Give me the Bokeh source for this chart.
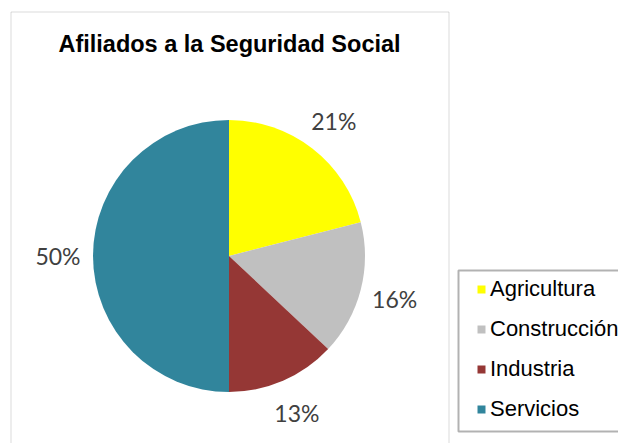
import math
from bokeh.plotting import figure
from bokeh.models import ColumnDataSource, Legend, LegendItem, BoxAnnotation, Label, Range1d
from bokeh.embed import file_html
from bokeh.resources import INLINE
from bokeh.core.properties import value

# ---- data ----
title = "Afiliados a la Seguridad Social"
sectors = ["Agricultura", "Construcción", "Industria", "Servicios"]
shares = [21, 16, 13, 50]
colors = ["#FFFF00", "#C0C0C0", "#953735", "#31859C"]

W, H = 618, 443
p = figure(width=W, height=H, x_range=Range1d(0, W), y_range=Range1d(0, H),
           output_backend="svg", toolbar_location=None, min_border=0, tools="")
p.axis.visible = False
p.grid.visible = False
p.outline_line_color = None
p.background_fill_color = "white"
p.border_fill_color = "white"

cx, cy, r = 228.5, H - 255.5, 136
total = float(sum(shares))
starts, ends, lx, ly, labels = [], [], [], [], []
cum = 0.0
for s in shares:
    a0 = math.pi / 2 - 2 * math.pi * cum / total
    cum += s
    a1 = math.pi / 2 - 2 * math.pi * cum / total
    starts.append(a0)
    ends.append(a1)
    m = (a0 + a1) / 2
    R = r + 35
    lx.append(cx + R * math.cos(m))
    ly.append(cy + R * math.sin(m))
    labels.append(f"{round(100 * s / total)}%")

src = ColumnDataSource(dict(sector=sectors, share=shares, color=colors,
                            start=starts, end=ends))
wr = p.wedge(x=cx, y=cy, radius=r, start_angle="start", end_angle="end",
             direction="clock", fill_color="color", line_color=None, source=src)

lsrc = ColumnDataSource(dict(x=lx, y=ly, text=labels))
p.text(x="x", y="y", text="text", source=lsrc, text_font=value("Lato"),
       text_font_size="23px", text_color="#404040", text_align="center",
       text_baseline="middle")

# chart area border
p.add_layout(BoxAnnotation(left=10.5, right=448.5, top=H - 11.5, bottom=-20,
                           fill_alpha=0, line_color="#878787", line_width=1))
# legend border
p.add_layout(BoxAnnotation(left=458, right=W + 50, top=H - 270, bottom=H - 431,
                           fill_alpha=0, line_color="black", line_width=2))

p.add_layout(Label(x=229, y=H - 43, text=title, text_align="center",
                   text_baseline="alphabetic", text_font="Liberation Sans",
                   text_font_style="bold", text_font_size="23.5px", text_color="black"))

items = [LegendItem(label=s, renderers=[wr], index=i) for i, s in enumerate(sectors)]
legend = Legend(items=items, location=(476, 14), padding=0, spacing=0, margin=0,
                label_height=40, glyph_width=10, glyph_height=10, label_standoff=4,
                border_line_color=None, background_fill_alpha=0,
                label_text_font="Liberation Sans", label_text_font_size="22px",
                label_text_color="black")
p.add_layout(legend)

open("out.html", "w").write(file_html(p, INLINE))
